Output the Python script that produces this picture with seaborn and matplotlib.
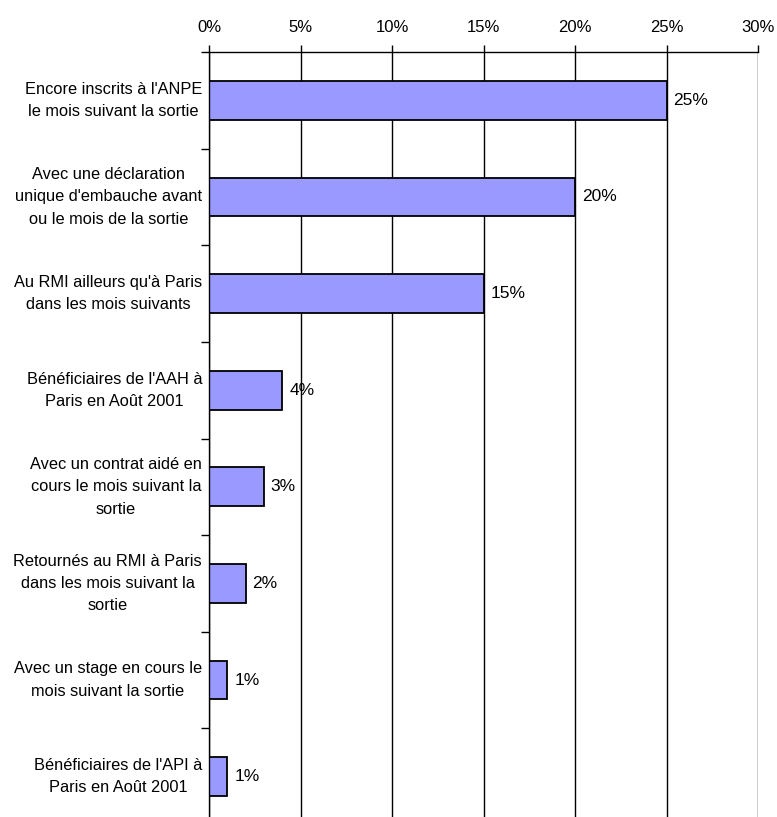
import matplotlib
matplotlib.use("Agg")
import matplotlib.pyplot as plt
import seaborn as sns
import pandas as pd
from matplotlib.ticker import FixedLocator, PercentFormatter

categories = [
    "Encore inscrits à l'ANPE\nle mois suivant la sortie",
    "Avec une déclaration\nunique d'embauche avant\nou le mois de la sortie",
    "Au RMI ailleurs qu'à Paris\ndans les mois suivants",
    "Bénéficiaires de l'AAH à\nParis en Août 2001",
    "Avec un contrat aidé en\ncours le mois suivant la\nsortie",
    "Retournés au RMI à Paris\ndans les mois suivant la\nsortie",
    "Avec un stage en cours le\nmois suivant la sortie",
    "Bénéficiaires de l'API à\nParis en Août 2001",
]
values = [25, 20, 15, 4, 3, 2, 1, 1]
x_ticks = [0, 5, 10, 15, 20, 25, 30]

df = pd.DataFrame({"categorie": categories, "part": values})

sns.set_style("white")
plt.rcParams["font.family"] = ["Liberation Sans", "DejaVu Sans"]
plt.rcParams["font.size"] = 12
plt.rcParams["text.color"] = "black"
plt.rcParams["xtick.color"] = "black"
plt.rcParams["ytick.color"] = "black"

fig = plt.figure(figsize=(7.77, 8.17), dpi=100)
ax = fig.add_axes([209 / 777, -8 / 817, 549 / 777, 773 / 817])

sns.barplot(data=df, x="part", y="categorie", orient="h", color="#9999FF",
            saturation=1, width=0.4, edgecolor="black", linewidth=1.3, ax=ax)

ax.set_xlim(0, 30)
ax.set_ylim(7.5, -0.5)
ax.xaxis.set_major_locator(FixedLocator(x_ticks))
ax.xaxis.set_major_formatter(PercentFormatter(decimals=0))
ax.xaxis.tick_top()
ax.tick_params(axis="x", which="major", direction="out", length=5, width=1,
               color="black", pad=7, labelsize=12, labelcolor="black")
ax.grid(axis="x", color="black", linewidth=1)
ax.set_axisbelow(True)

ax.yaxis.set_minor_locator(FixedLocator([i + 0.5 for i in range(-1, 8)]))
ax.tick_params(axis="y", which="major", length=0, pad=5, labelsize=11.8, labelcolor="black")
ax.tick_params(axis="y", which="minor", left=True, length=6, width=1, color="black")
for lab in ax.get_yticklabels():
    lab.set_multialignment("center")
    lab.set_verticalalignment("center")
    lab.set_linespacing(1.6)

for side in ["right", "bottom"]:
    ax.spines[side].set_visible(False)
for side in ["left", "top"]:
    ax.spines[side].set_color("black")
    ax.spines[side].set_linewidth(1)

ax.bar_label(ax.containers[0], labels=[f"{v}%" for v in values], padding=5,
             fontsize=12.5, color="black")

ax.set_xlabel("")
ax.set_ylabel("")

fig.savefig("out.png", dpi=100)
